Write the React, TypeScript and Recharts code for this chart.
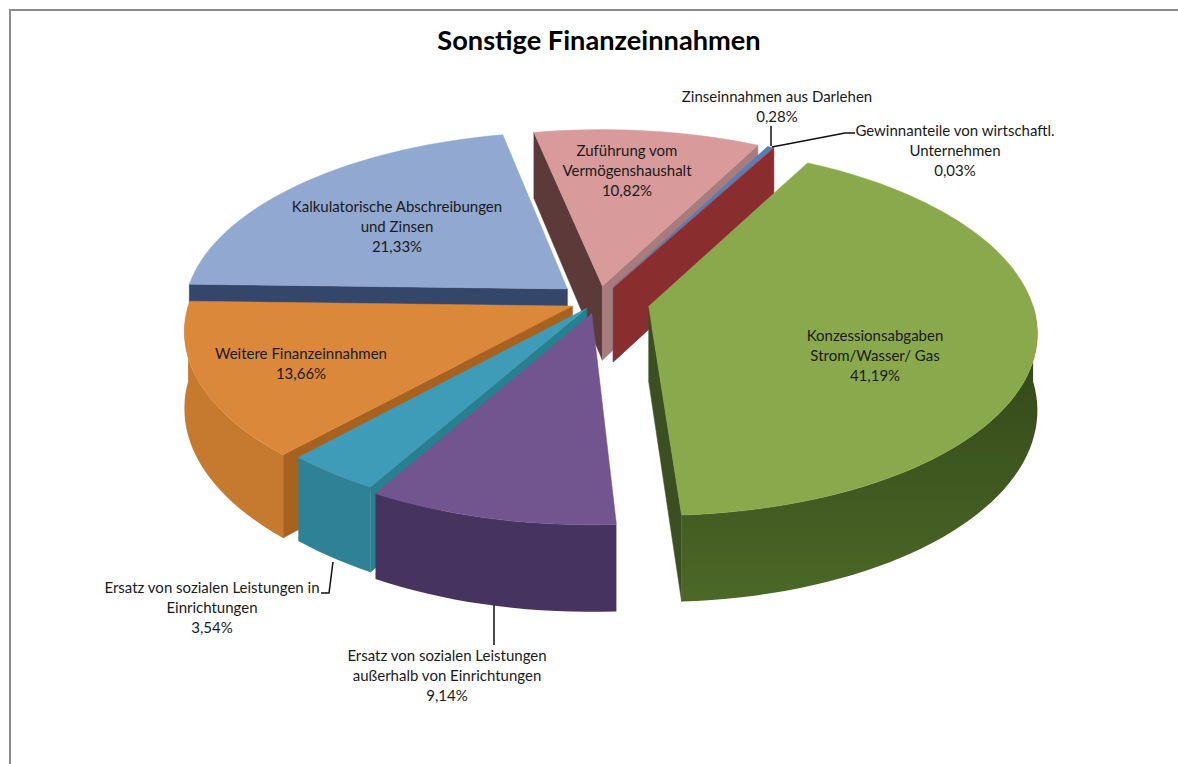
import React from 'react';
import { PieChart, Pie } from 'recharts';

const categories = [
  'Zinseinnahmen aus Darlehen',
  'Gewinnanteile von wirtschaftl. Unternehmen',
  'Konzessionsabgaben Strom/Wasser/ Gas',
  'Ersatz von sozialen Leistungen außerhalb von Einrichtungen',
  'Ersatz von sozialen Leistungen in Einrichtungen',
  'Weitere Finanzeinnahmen',
  'Kalkulatorische Abschreibungen und Zinsen',
  'Zuführung vom Vermögenshaushalt',
];
const shares = [0.28, 0.03, 41.19, 9.14, 3.54, 13.66, 21.33, 10.82];

const labelLines = [
  ['Zinseinnahmen aus Darlehen'],
  ['Gewinnanteile von wirtschaftl.', 'Unternehmen'],
  ['Konzessionsabgaben', 'Strom/Wasser/ Gas'],
  ['Ersatz von sozialen Leistungen', 'außerhalb von Einrichtungen'],
  ['Ersatz von sozialen Leistungen in', 'Einrichtungen'],
  ['Weitere Finanzeinnahmen'],
  ['Kalkulatorische Abschreibungen', 'und Zinsen'],
  ['Zuführung vom', 'Vermögenshaushalt'],
];

// label anchor (centre x, first baseline y)
const labelPos = [
  [777, 102],
  [955, 136],
  [875, 341],
  [447, 661],
  [212, 593],
  [301, 359],
  [397, 212],
  [627, 156],
];

const leaders: (number[][] | null)[] = [
  [[771, 126], [771, 146]],
  [[855, 133], [845, 133], [772, 147]],
  null,
  [[494, 605], [494, 645]],
  [[333, 562], [329, 593], [321, 593]],
  null,
  null,
  null,
];

const topColors = ['#4f81bd', '#c0504d', '#8aa94c', '#72558f', '#3f9cb8', '#dc883a', '#91a8d0', '#d89a9a'];
const arcColors = ['#3a6ea5', '#8a2d2e', 'url(#greenWall)', '#47335f', '#2f8295', '#c67a30', '#34476a', '#5c3a3a'];
const startWallColors = ['#3a6ea5', '#8a2d2e', '#3c4f22', '#47335f', '#26808f', '#a86220', '#34476a', '#5c3a3a'];
const endWallColors = ['#3a6ea5', '#8a2d2e', '#3c4f22', '#47335f', '#2f8295', '#b5702a', '#34476a', '#a87c7c'];

// how far each slice is pulled out, as a share of the radius
const explode = [0.085, 0.085, 0.135, 0.07, 0.05, 0.072, 0.105, 0.085];

// wall painting order: back first, front ones go over them
const backWalls = [6, 7];
const midWalls = [0, 1];

const CX = 598;
const CY = 301;
const RADIUS = 383;
const SQUASH = 0.471;
const PERSPECTIVE = 0.13;
const DEPTH = 75;
const START = 90 - 27.3;

const rad = Math.PI / 180;
const data = categories.map((name, i) => ({ name, value: shares[i], index: i }));
const reversedData = [...data].reverse();

// disc coordinates -> screen point
const project = (x: number, y: number, z: number) => {
  const w = 1 - PERSPECTIVE * y;
  return [CX + (RADIUS * x) / w, CY + (RADIUS * SQUASH * y + z * DEPTH) / w];
};

const discPoint = (i: number, mid: number, deg: number, r: number) => {
  const e = explode[i];
  const x = e * Math.sin(mid * rad) + r * Math.sin(deg * rad);
  const y = -e * Math.cos(mid * rad) - r * Math.cos(deg * rad);
  return [x, y];
};

const toPath = (pts: number[][]) => 'M' + pts.map((p) => `${p[0].toFixed(1)},${p[1].toFixed(1)}`).join('L') + 'Z';

const rim = (i: number, mid: number, a: number, b: number, z: number) => {
  const n = Math.max(2, Math.ceil(Math.abs(b - a) / 2));
  const pts: number[][] = [];
  for (let k = 0; k <= n; k++) {
    const [x, y] = discPoint(i, mid, a + ((b - a) * k) / n, 1);
    pts.push(project(x, y, z));
  }
  return pts;
};

const sliceAngles = (props: any) => {
  // recharts angles run counter clockwise from 3 o'clock, here clockwise from the top
  const p = 90 - props.startAngle;
  const q = 90 - props.endAngle;
  return { a: Math.min(p, q), b: Math.max(p, q), mid: (p + q) / 2 };
};

const sliceIndex = (props: any) => props.payload?.index ?? props.index;

const Walls = (props: any) => {
  const i = sliceIndex(props);
  const { a, b, mid } = sliceAngles(props);
  const [ax, ay] = discPoint(i, mid, 0, 0);
  const apexTop = project(ax, ay, 0);
  const apexBottom = project(ax, ay, 1);
  const parts: React.ReactNode[] = [];

  const radial = (deg: number, fill: string, key: string) => {
    const [x, y] = discPoint(i, mid, deg, 1);
    parts.push(<path key={key} d={toPath([apexTop, project(x, y, 0), project(x, y, 1), apexBottom])} fill={fill} stroke={fill} strokeWidth={0.5} />);
  };
  if (Math.sin(a * rad) < 0) radial(a, startWallColors[i], 'start');
  if (Math.sin(b * rad) > 0) radial(b, endWallColors[i], 'end');

  // outer wall, only the part facing the viewer
  const from = Math.max(a, 90);
  const to = Math.min(b, 270);
  if (to > from) {
    const top = rim(i, mid, from, to, 0);
    const bottom = rim(i, mid, to, from, 1);
    parts.push(<path key="arc" d={toPath([...top, ...bottom])} fill={arcColors[i]} stroke="none" />);
  }
  return <g>{parts}</g>;
};

const BackWallShape = (props: any) => (backWalls.includes(sliceIndex(props)) ? <Walls {...props} /> : <g />);
const MidWallShape = (props: any) => (midWalls.includes(sliceIndex(props)) ? <Walls {...props} /> : <g />);
const FrontWallShape = (props: any) => {
  const i = sliceIndex(props);
  return backWalls.includes(i) || midWalls.includes(i) ? <g /> : <Walls {...props} />;
};

const TopShape = (props: any) => {
  const i = sliceIndex(props);
  const { a, b, mid } = sliceAngles(props);
  const [ax, ay] = discPoint(i, mid, 0, 0);
  const d = toPath([project(ax, ay, 0), ...rim(i, mid, a, b, 0)]);
  return <path d={d} fill={topColors[i]} stroke={topColors[i]} strokeWidth={0.5} />;
};

const SliceLabel = (props: any) => {
  const i = props.index;
  const [x, y] = labelPos[i];
  const lines = [...labelLines[i], shares[i].toFixed(2).replace('.', ',') + '%'];
  const leader = leaders[i];
  return (
    <g>
      {leader && (
        <polyline points={leader.map((p) => p.join(',')).join(' ')} fill="none" stroke="#111" strokeWidth={1.5} />
      )}
      <text x={x} y={y} textAnchor="middle" fontFamily="Lato, sans-serif" fontSize={15} fill="#1a1a1a">
        {lines.map((t, k) => (
          <tspan key={k} x={x} dy={k === 0 ? 0 : 20}>
            {t}
          </tspan>
        ))}
      </text>
    </g>
  );
};

export default function App() {
  const pieProps = { dataKey: 'value', cx: CX, cy: CY, outerRadius: RADIUS, isAnimationActive: false };
  return (
    <div style={{ position: 'absolute', left: 0, top: 0, width: 1178, height: 764, background: '#fff', overflow: 'hidden' }}>
      <div
        style={{
          position: 'absolute', left: 9, top: 9, width: 1169, height: 755,
          borderLeft: '2px solid #8c8c8c', borderTop: '2px solid #8c8c8c',
        }}
      />
      <div
        style={{
          position: 'absolute', left: 0, width: 1198, top: 23, textAlign: 'center',
          fontFamily: 'Lato, sans-serif', fontWeight: 700, fontSize: 27.2, color: '#000',
        }}
      >
        Sonstige Finanzeinnahmen
      </div>
      <div style={{ position: 'absolute', left: 0, top: 0 }}>
        <PieChart width={1178} height={764} margin={{ top: 0, right: 0, bottom: 0, left: 0 }}>
          <defs>
            <linearGradient id="greenWall" x1="0" y1="0" x2="0" y2="1">
              <stop offset="0" stopColor="#2f4218" />
              <stop offset="1" stopColor="#4c6826" />
            </linearGradient>
          </defs>
          <Pie {...pieProps} data={data} startAngle={START} endAngle={START - 360} shape={BackWallShape} />
          <Pie {...pieProps} data={data} startAngle={START} endAngle={START - 360} shape={MidWallShape} />
          {/* same angles, run the other way round so purple lands on top of teal on top of orange */}
          <Pie {...pieProps} data={reversedData} startAngle={START - 360} endAngle={START} shape={FrontWallShape} />
          <Pie
            {...pieProps}
            data={data}
            startAngle={START}
            endAngle={START - 360}
            shape={TopShape}
            label={SliceLabel}
            labelLine={false}
          />
        </PieChart>
      </div>
    </div>
  );
}
